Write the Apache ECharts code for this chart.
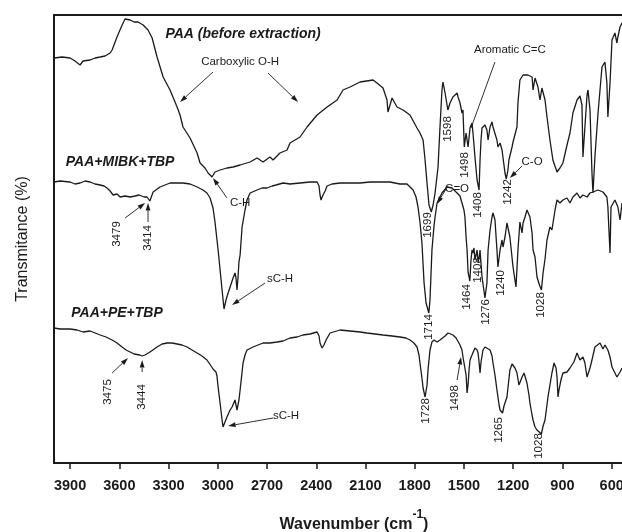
<!DOCTYPE html>
<html>
<head>
<meta charset="utf-8">
<script src="https://cdn.jsdelivr.net/npm/echarts@6/dist/echarts.min.js"></script>
<style>
  html, body { margin: 0; padding: 0; background: #fff; }
  #chart { width: 622px; height: 532px; }
</style>
</head>
<body>
<div id="chart"></div>
<script>
// FTIR spectra: wavenumber (cm-1) vs. transmittance (arbitrary offset units)
const xTicks = [3900, 3600, 3300, 3000, 2700, 2400, 2100, 1800, 1500, 1200, 900, 600];

const paa = [
  [3997,405],[3991,405],[3949,406],[3900,405],[3870,402],[3839,398],[3821,402],[3778,403],[3748,405],[3717,406],
  [3687,407],[3656,410],[3644,413],[3614,426],[3583,438],[3565,444],[3534,443],[3510,441],[3486,441],[3455,438],
  [3425,433],[3400,425],[3370,406],[3333,386],[3291,373],[3248,356],[3230,348],[3212,336],[3169,325],[3126,310],
  [3108,300],[3078,295],[3059,290],[3035,286],[3017,291],[2986,293],[2944,295],[2907,296],[2864,298],[2803,301],
  [2761,305],[2724,301],[2682,306],[2663,303],[2621,310],[2578,313],[2560,320],[2499,326],[2456,336],[2395,348],
  [2334,356],[2273,363],[2237,373],[2194,376],[2133,381],[2054,383],[2030,380],[1993,375],[1969,363],[1963,351],
  [1938,365],[1908,356],[1871,353],[1829,348],[1786,335],[1768,330],[1749,323],[1737,303],[1725,280],[1713,258],
  [1699,251],[1688,258],[1676,270],[1658,296],[1646,336],[1634,373],[1628,381],[1615,370],[1598,353],[1585,360],
  [1567,366],[1542,370],[1536,366],[1524,360],[1512,350],[1506,353],[1498,316],[1487,330],[1475,316],[1463,335],
  [1451,340],[1445,330],[1433,306],[1420,283],[1408,273],[1402,303],[1396,323],[1390,335],[1372,338],[1360,333],
  [1353,323],[1341,336],[1329,341],[1323,336],[1299,323],[1293,316],[1280,320],[1268,313],[1250,290],[1242,284],
  [1232,293],[1226,303],[1207,316],[1201,321],[1189,320],[1177,336],[1171,360],[1159,383],[1140,388],[1110,388],
  [1085,386],[1079,373],[1067,385],[1049,376],[1037,363],[1025,375],[1006,363],[994,346],[976,323],[958,303],
  [933,291],[915,295],[897,300],[872,318],[854,330],[836,350],[811,363],[793,367],[781,358],[775,306],
  [763,336],[750,368],[744,373],[732,353],[720,290],[714,270],[702,306],[683,350],[659,396],[641,401],
  [629,380],[623,346],[610,380],[598,423],[580,430],[568,420],[562,426],[549,436],[537,440]
];

const mibk = [
  [3997,281],[3961,282],[3900,281],[3870,279],[3839,280],[3808,282],[3778,281],[3748,279],[3717,278],[3693,277],
  [3675,275],[3656,272],[3638,268],[3614,269],[3595,266],[3565,267],[3534,266],[3504,267],[3479,268],[3449,266],
  [3431,266],[3414,262],[3394,271],[3352,276],[3291,280],[3212,280],[3169,279],[3126,276],[3090,273],[3066,270],
  [3047,265],[3029,255],[3017,241],[2998,213],[2986,193],[2974,173],[2962,154],[2950,163],[2937,170],[2925,176],
  [2907,185],[2895,190],[2889,185],[2883,173],[2877,185],[2871,201],[2864,208],[2852,236],[2834,253],[2822,263],
  [2803,270],[2761,273],[2730,275],[2700,275],[2669,277],[2645,278],[2602,280],[2560,279],[2499,280],[2438,281],
  [2395,281],[2383,277],[2377,268],[2371,263],[2359,268],[2346,272],[2334,277],[2304,279],[2255,280],[2194,280],
  [2133,280],[2072,281],[2030,281],[1951,281],[1890,279],[1847,279],[1810,273],[1792,266],[1780,256],[1768,241],
  [1756,220],[1743,180],[1731,160],[1714,150],[1707,163],[1695,213],[1682,238],[1676,246],[1664,260],[1634,270],
  [1603,276],[1573,275],[1542,270],[1524,267],[1512,265],[1500,253],[1494,246],[1487,226],[1481,213],[1475,191],
  [1464,182],[1457,203],[1451,213],[1445,210],[1439,215],[1433,203],[1420,213],[1414,201],[1408,205],[1402,213],
  [1390,186],[1372,165],[1360,180],[1353,213],[1341,233],[1329,246],[1323,250],[1311,243],[1299,213],[1293,196],
  [1280,213],[1268,223],[1262,216],[1250,226],[1238,240],[1232,241],[1220,226],[1201,196],[1183,176],[1171,213],
  [1159,241],[1146,230],[1140,240],[1128,246],[1116,253],[1110,255],[1098,246],[1085,230],[1079,213],[1067,206],
  [1055,186],[1040,178],[1028,173],[1018,190],[1006,204],[994,223],[976,236],[964,233],[945,253],[933,263],
  [915,260],[897,263],[872,265],[854,260],[836,266],[811,270],[793,265],[775,268],[750,266],[732,270],
  [714,271],[683,273],[653,271],[629,266],[623,256],[610,210],[604,256],[580,263],[562,256],[549,243],[537,260]
];

const pe = [
  [3997,135],[3961,134],[3900,134],[3857,133],[3821,131],[3778,132],[3717,128],[3681,126],[3644,123],[3614,120],
  [3583,116],[3559,113],[3534,111],[3510,109],[3475,108],[3461,107],[3444,108],[3413,111],[3370,116],[3339,119],
  [3309,120],[3278,120],[3248,119],[3218,118],[3187,116],[3157,113],[3126,110],[3096,107],[3066,103],[3041,97],
  [3029,94],[3011,91],[3005,87],[2998,76],[2986,60],[2974,43],[2968,36],[2956,41],[2944,46],[2925,53],
  [2913,56],[2895,63],[2883,53],[2877,51],[2871,63],[2864,73],[2852,91],[2846,100],[2834,108],[2822,113],
  [2785,116],[2755,118],[2724,120],[2682,120],[2639,121],[2602,122],[2560,125],[2517,126],[2481,128],[2438,129],
  [2395,131],[2383,127],[2377,120],[2365,115],[2353,118],[2340,123],[2316,130],[2255,133],[2194,132],[2133,131],
  [2091,130],[2042,129],[1993,128],[1938,127],[1890,126],[1853,125],[1829,123],[1805,120],[1786,116],[1774,108],
  [1768,100],[1756,85],[1749,75],[1737,66],[1728,65],[1725,78],[1719,93],[1707,113],[1695,121],[1682,123],
  [1664,121],[1646,123],[1634,125],[1615,127],[1597,130],[1585,129],[1567,128],[1548,125],[1536,123],[1524,118],
  [1512,113],[1506,106],[1498,107],[1494,106],[1487,88],[1481,70],[1475,78],[1469,93],[1463,103],[1451,108],
  [1433,115],[1420,113],[1414,110],[1408,101],[1402,90],[1396,101],[1384,113],[1372,116],[1360,116],[1341,113],
  [1329,107],[1323,100],[1311,88],[1299,73],[1286,58],[1280,53],[1265,50],[1256,57],[1238,66],[1220,93],
  [1207,99],[1201,100],[1189,95],[1177,90],[1165,78],[1159,76],[1153,83],[1146,86],[1134,90],[1128,91],
  [1116,80],[1104,68],[1098,60],[1085,48],[1079,43],[1067,36],[1055,33],[1043,31],[1028,29],[1018,37],
  [1006,43],[988,66],[976,78],[964,90],[951,100],[939,95],[933,86],[927,66],[921,73],[909,83],
  [897,90],[872,91],[854,95],[842,96],[830,101],[811,110],[793,103],[781,101],[775,106],[763,100],
  [750,86],[732,95],[720,103],[702,116],[690,117],[671,120],[653,114],[641,118],[623,113],[610,106],
  [598,96],[580,90],[568,86],[549,91],[537,95]
];

// sample captions placed beside each trace: [text, wavenumber, level]
const sampleCaptions = [
  ['PAA (before extraction)', 2846, 429],
  ['PAA+MIBK+TBP', 3595, 301],
  ['PAA+PE+TBP', 3614, 150]
];

// group assignments (horizontal text): [text, wavenumber, level]
const groupNotes = [
  ['Carboxylic O-H', 2864, 401],
  ['C-H', 2864, 260],
  ['sC-H', 2621, 184],
  ['sC-H', 2584, 47],
  ['Aromatic C=C', 1220, 413],
  ['C=O', 1542, 274],
  ['C-O', 1085, 301]
];

// band positions written vertically: [text, wavenumber, level]
const bandNotes = [
  ['3479', 3614, 229], ['3414', 3425, 225],
  ['3475', 3668, 71], ['3444', 3461, 66],
  ['1598', 1597, 334], ['1498', 1494, 298], ['1408', 1414, 258], ['1242', 1232, 271],
  ['1699', 1719, 238], ['1464', 1481, 166], ['1408', 1414, 193], ['1276', 1366, 151],
  ['1240', 1274, 180], ['1028', 1031, 158], ['1714', 1713, 136],
  ['1728', 1731, 52], ['1498', 1554, 65], ['1265', 1286, 33], ['1028', 1043, 17]
];

// pointers: [fromWn, fromLevel, toWn, toLevel, withHead]
const pointers = [
  [3029, 391, 3230, 361, true],
  [2694, 390, 2511, 361, true],
  [2944, 265, 3029, 285, true],
  [3565, 245, 3443, 260, true],
  [3425, 241, 3425, 260, true],
  [2712, 180, 2913, 158, true],
  [3644, 90, 3547, 105, true],
  [3461, 91, 3461, 103, true],
  [2663, 45, 2937, 37, true],
  [1311, 401, 1457, 335, false],
  [1609, 274, 1664, 259, true],
  [1146, 297, 1220, 285, true],
  [1542, 83, 1518, 106, true]
];

const INK = '#1a1a1a';
const FONT = '"Liberation Sans", Arial, Helvetica, sans-serif';

const chart = echarts.init(document.getElementById('chart'), null, { renderer: 'canvas' });

const lineSeries = (data) => ({
  type: 'line',
  data: data,
  showSymbol: false,
  symbol: 'none',
  xAxisIndex: 0,
  yAxisIndex: 0,
  lineStyle: { color: INK, width: 1.3 },
  silent: true,
  animation: false
});

chart.setOption({
  animation: false,
  backgroundColor: '#fff',
  grid: { left: 54, right: 0, top: 15, bottom: 69, containLabel: false, outerBoundsMode: 'none' },
  xAxis: [
    {
      type: 'value', inverse: true, min: 537, max: 3998,
      position: 'bottom',
      axisLine: { show: true, onZero: false, lineStyle: { color: INK, width: 2 } },
      axisTick: { show: true, inside: false, length: 6, customValues: xTicks, lineStyle: { color: INK, width: 1.5 } },
      axisLabel: {
        show: true, customValues: xTicks, margin: 15, hideOverlap: false,
        formatter: (v) => String(v),
        color: INK, fontFamily: FONT, fontWeight: 'bold', fontSize: 14.5
      },
      splitLine: { show: false }
    },
    {
      type: 'value', inverse: true, min: 537, max: 3998,
      position: 'top',
      axisLine: { show: true, onZero: false, lineStyle: { color: INK, width: 2 } },
      axisTick: { show: false }, axisLabel: { show: false }, splitLine: { show: false }
    }
  ],
  yAxis: {
    type: 'value', min: 0, max: 448,
    axisLine: { show: true, lineStyle: { color: INK, width: 2 } },
    axisTick: { show: false }, axisLabel: { show: false }, splitLine: { show: false }
  },
  series: [lineSeries(paa), lineSeries(mibk), lineSeries(pe)]
});

function toPx(wn, lv) {
  return chart.convertToPixel({ xAxisIndex: 0, yAxisIndex: 0 }, [wn, lv]);
}

const graphics = [];

sampleCaptions.forEach(([t, wn, lv]) => {
  const p = toPx(wn, lv);
  graphics.push({
    type: 'text', x: p[0], y: p[1], silent: true,
    style: { text: t, fill: INK, fontFamily: FONT, fontWeight: 'bold', fontStyle: 'italic',
             fontSize: 14, align: 'center', verticalAlign: 'middle' }
  });
});

groupNotes.forEach(([t, wn, lv]) => {
  const p = toPx(wn, lv);
  graphics.push({
    type: 'text', x: p[0], y: p[1], silent: true,
    style: { text: t, fill: INK, fontFamily: FONT, fontSize: 11.5, align: 'center', verticalAlign: 'middle' }
  });
});

bandNotes.forEach(([t, wn, lv]) => {
  const p = toPx(wn, lv);
  graphics.push({
    type: 'text', x: p[0], y: p[1], rotation: Math.PI / 2, silent: true,
    style: { text: t, fill: INK, fontFamily: FONT, fontSize: 11.5, align: 'center', verticalAlign: 'middle' }
  });
});

pointers.forEach(([w1, l1, w2, l2, head]) => {
  const a = toPx(w1, l1), b = toPx(w2, l2);
  const dx = b[0] - a[0], dy = b[1] - a[1];
  const len = Math.hypot(dx, dy) || 1;
  const ux = dx / len, uy = dy / len;
  const hl = head ? 7.5 : 0, hw = 2.4;
  const bx = b[0] - ux * hl, by = b[1] - uy * hl;
  graphics.push({
    type: 'line', silent: true,
    shape: { x1: a[0], y1: a[1], x2: head ? bx : b[0], y2: head ? by : b[1] },
    style: { stroke: INK, lineWidth: 0.9 }
  });
  if (head) {
    graphics.push({
      type: 'polygon', silent: true,
      shape: { points: [[b[0], b[1]], [bx - uy * hw, by + ux * hw], [bx + uy * hw, by - ux * hw]] },
      style: { fill: INK }
    });
  }
});

// axis titles
graphics.push({
  type: 'text', x: 23, y: 239, rotation: Math.PI / 2, silent: true,
  style: { text: 'Transmitance (%)', fill: INK, fontFamily: FONT, fontSize: 16,
           align: 'center', verticalAlign: 'middle' }
});
graphics.push({
  type: 'text', x: 354, y: 521, silent: true,
  style: {
    text: '{a|Wavenumber (cm}{s|-1}{a|)}', align: 'center', verticalAlign: 'middle',
    rich: {
      a: { fontFamily: FONT, fontWeight: 'bold', fontSize: 16, fill: INK, color: INK, lineHeight: 24, verticalAlign: 'bottom' },
      s: { fontFamily: FONT, fontWeight: 'bold', fontSize: 12, fill: INK, color: INK, lineHeight: 24, verticalAlign: 'top' }
    }
  }
});

chart.setOption({ graphic: graphics });
</script>
</body>
</html>
